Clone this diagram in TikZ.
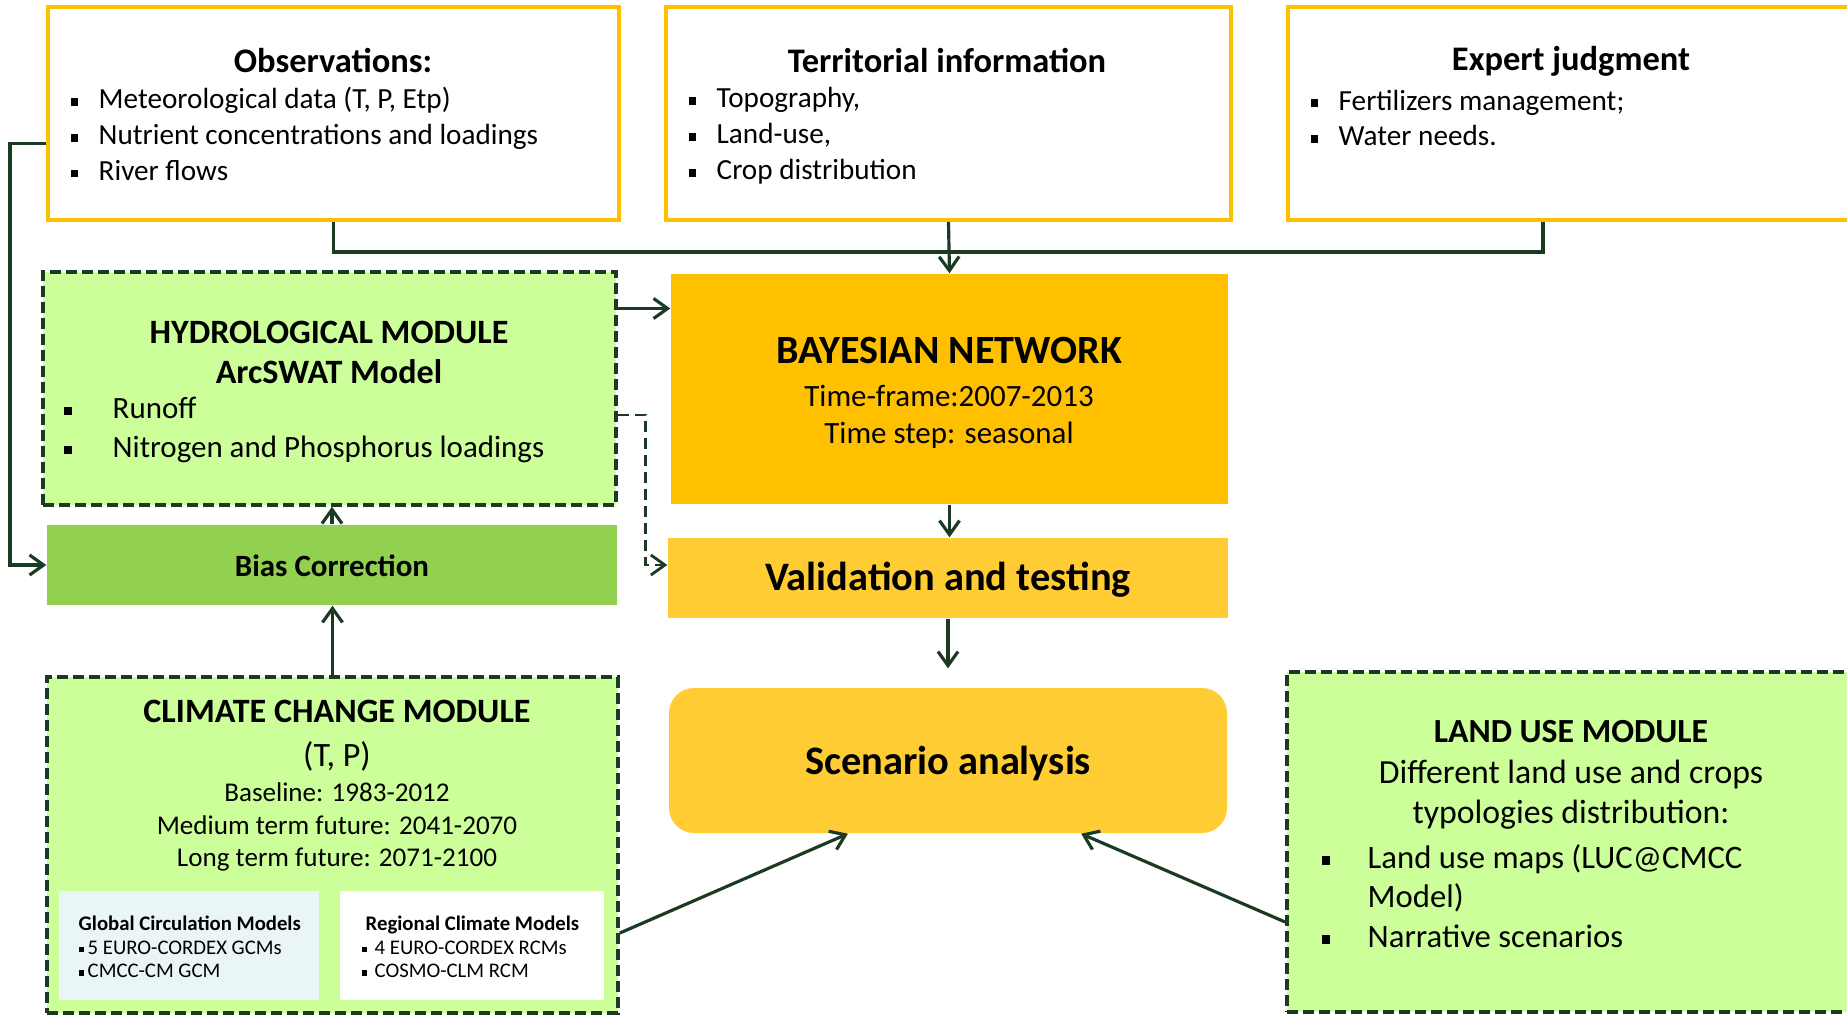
\documentclass[tikz,border=0pt]{standalone}
\usepackage{fontspec}
\setmainfont{Carlito}
\usetikzlibrary{arrows.meta,fit}
\definecolor{lineG}{HTML}{1B3A22}
\definecolor{goldY}{HTML}{FFC000}
\definecolor{paleG}{HTML}{CCFF99}
\definecolor{midG}{HTML}{92D050}
\definecolor{lightY}{HTML}{FFCC33}
\definecolor{paleB}{HTML}{EAF5F7}
\newcommand{\fsz}[2]{\fontsize{#1}{#2}\selectfont}
\newcommand{\sqb}[1]{\makebox[#1][l]{\rule[0.22ex]{0.55ex}{0.55ex}}}
\tikzset{
  inbox/.style={draw=goldY,line width=1.1pt,fill=white,inner sep=0pt},
  modbox/.style={draw=lineG,line width=1pt,dash pattern=on 1.1mm off 0.5mm,fill=paleG,inner sep=0pt},
  flat/.style={fill=#1,inner sep=0pt},
  link/.style={draw=lineG,line width=0.9pt},
  hd/.style 2 args={inner sep=0pt,align=center,font=\fsz{#1}{#2}},
  lst/.style 2 args={inner sep=0pt,align=left,anchor=west,font=\fsz{#1}{#2}}}
\begin{document}
\begin{tikzpicture}[x=0.01cm,y=-0.01cm,>={Straight Barb[length=1.4mm,width=2mm]}]
\useasboundingbox (0,0) rectangle (1847,1014);
\clip (0,0) rectangle (1847,1014);
% input boxes
\node[inbox,fit={(48,7) (619,220)}] (obs) {};
\node[inbox,fit={(666,7) (1231,220)}] (ter) {};
\node[inbox,fit={(1288,7) (1852,220)}] (exp) {};
\node[hd={9.8pt}{11pt}] (obs-t) at (333,61) {\bfseries Observations:};
\node[lst={8.3pt}{10.2pt}] (obs-l) at (70,134) {\sqb{0.28cm}Meteorological data (T, P, Etp)\\ \sqb{0.28cm}Nutrient concentrations and loadings\\ \sqb{0.28cm}River flows};
\node[hd={9.8pt}{11pt}] (ter-t) at (947,61) {\bfseries Territorial information};
\node[lst={8.3pt}{10.2pt}] (ter-l) at (688,136) {\sqb{0.28cm}Topography,\\ \sqb{0.28cm}Land-use,\\ \sqb{0.28cm}Crop distribution};
\node[hd={9.8pt}{11pt}] (exp-t) at (1571,61) {\bfseries Expert judgment};
\node[lst={8.3pt}{10.2pt}] (exp-l) at (1310,118) {\sqb{0.28cm}Fertilizers management;\\ \sqb{0.28cm}Water needs.};
% modules and network
\node[modbox,fit={(43,272) (616,505)}] (hyd) {};
\node[hd={9.7pt}{11.4pt}] (hyd-t) at (329,352) {\textbf{HYDROLOGICAL MODULE}\\ \textbf{ArcSWAT Model}};
\node[lst={8.8pt}{11.1pt}] (hyd-l) at (63,430) {\sqb{0.49cm}Runoff\\ \sqb{0.49cm}Nitrogen and Phosphorus loadings};
\node[flat=goldY,fit={(671,274) (1228,504)}] (bn) {};
\node[hd={8.8pt}{10.5pt}] (bn-t) at (949,393) {{\fsz{11.4pt}{13pt}\bfseries BAYESIAN NETWORK}\\[1.7pt] Time-frame:2007-2013\\ Time step: seasonal};
\node[flat=midG,fit={(47,525) (617,605)}] (bias) {};
\node[hd={8.8pt}{10.5pt}] (bias-t) at (332,566) {\bfseries Bias Correction};
\node[flat=lightY,fit={(668,538) (1228,618)}] (val) {};
\node[hd={11.5pt}{13pt}] (val-t) at (948,580) {\bfseries Validation and testing};
\node[flat=lightY,rounded corners=0.25cm,fit={(669,688) (1227,833)}] (scen) {};
\node[hd={11.5pt}{13pt}] (scen-t) at (948,763) {\bfseries Scenario analysis};
% climate change module
\node[modbox,fit={(47,677) (618,1013)}] (clim) {};
\node[hd={9.7pt}{12.5pt}] (clim-t) at (337,736) {\textbf{CLIMATE CHANGE MODULE}\\ (T, P)};
\node[hd={7.7pt}{9.3pt}] (clim-l) at (337,827) {Baseline: 1983-2012\\ Medium term future: 2041-2070\\ Long term future: 2071-2100};
\node[flat=paleB,fit={(59,891) (319,1000)}] (gcm) {};
\node[flat=white,fit={(340,891) (604,1000)}] (rcm) {};
\node[lst={5.9pt}{6.7pt}] (gcm-l) at (78,947) {\textbf{Global Circulation Models}\\ \sqb{0.09cm}5 EURO-CORDEX GCMs\\ \sqb{0.09cm}CMCC-CM GCM};
\node[lst={5.9pt}{6.7pt}] (rcm-l) at (361,947) {\hspace*{0.04cm}\textbf{Regional Climate Models}\\ \sqb{0.13cm}4 EURO-CORDEX RCMs\\ \sqb{0.13cm}COSMO-CLM RCM};
% land use module
\node[modbox,fit={(1287,672) (1852,1012)}] (land) {};
\node[hd={9.6pt}{11.6pt}] (land-t) at (1571,775) {\textbf{LAND USE MODULE}\\ Different land use and crops\\ typologies distribution:};
\node[lst={9.3pt}{11.2pt}] (land-l) at (1321,896) {\sqb{0.46cm}Land use maps (LUC@CMCC\\ \hspace*{0.46cm}Model)\\ \sqb{0.46cm}Narrative scenarios};
% connectors
\coordinate (hub) at (ter.south |- 0,252);
\draw[link] (obs.south) |- (hub) -| ([xshift=-0.27cm]exp.south);
\draw[link,->] (ter.south) -- (bn.north);
\draw[link,->] ([yshift=-0.3cm]obs.west) -- ++(-36,0) |- (bias.west);
\coordinate (h1) at ([yshift=0.8cm]hyd.east);
\draw[link,->] (h1) -- (h1 -| bn.west);
\coordinate (h2) at ([yshift=-0.265cm]hyd.east);
\coordinate (v1) at ([yshift=0.13cm]val.west);
\draw[link,line width=0.8pt,dash pattern=on 1.1mm off 0.6mm,->] (h2) -- ++(28,0) |- (v1);
\draw[link,->] (bias.north) -- (bias.north |- hyd.south);
\draw[link,->] (clim.north) -- (clim.north |- bias.south);
\draw[link,->] (bn.south) -- (bn.south |- val.north);
\draw[link,->,shorten >=0.19cm] (val.south) -- (val.south |- scen.north);
\draw[link,->] ([yshift=-0.88cm]clim.east) -- ([xshift=-1cm]scen.south);
\draw[link,->] ([yshift=-0.8cm]land.west) -- ([xshift=1.33cm]scen.south);
\end{tikzpicture}
\end{document}
